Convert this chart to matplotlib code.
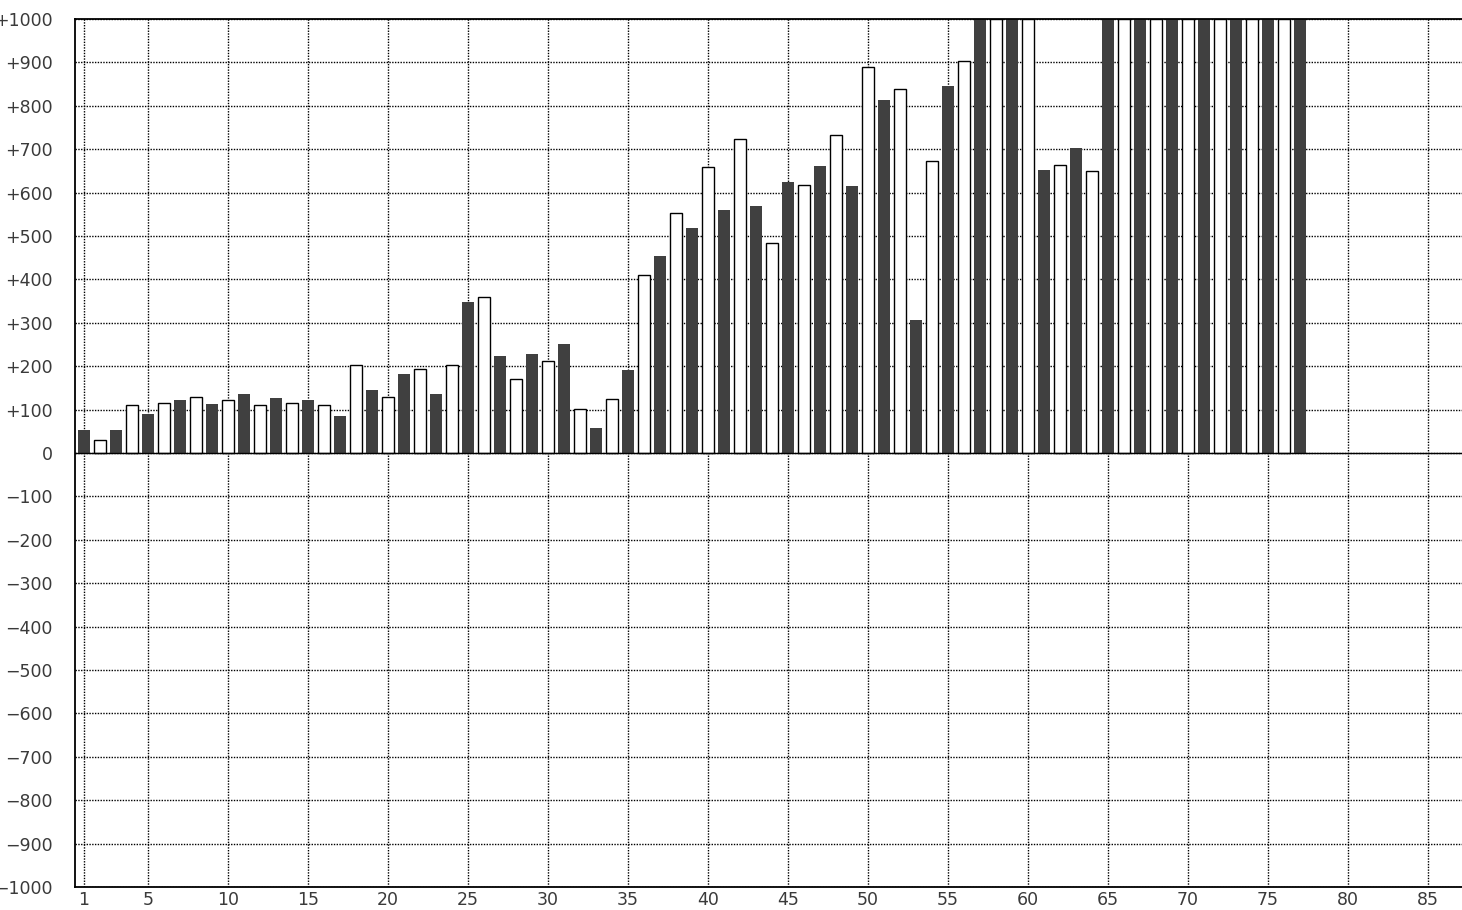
import numpy as np
import matplotlib
matplotlib.use('Agg')
import matplotlib.pyplot as plt

# bar values, bars 1..77 (tall ones are clipped at the top)
nums = np.arange(1, 78)
vals = [52, 31, 52, 111, 89, 115, 121, 129, 112, 121,
        135, 111, 126, 115, 121, 111, 85, 202, 145, 129,
        181, 194, 135, 203, 347, 360, 223, 171, 228, 212,
        251, 101, 57, 125, 191, 410, 454, 553, 518, 659,
        560, 724, 569, 484, 624, 618, 661, 733, 615, 890,
        813, 839, 306, 673, 845, 904, 1000, 1000, 1000, 1000,
        652, 664, 703, 650, 1000, 1000, 1000, 1000, 1000, 1000,
        1000, 1000, 1000, 1000, 1000, 1000, 1000]
xticks = [1, 5, 10, 15, 20, 25, 30, 35, 40, 45, 50, 55, 60, 65, 70, 75, 80, 85]
yticks = list(range(-1000, 1001, 100))

def ylab(v):
    if v > 0:
        return '+%d' % v
    if v < 0:
        return '\u2212%d' % -v
    return '0'

vals = np.array(vals)
odd = nums % 2 == 1

fig = plt.figure(figsize=(14.62, 9.10), dpi=100)
ax = fig.add_axes([75/1462, 23/910, (1462-75)/1462, 868/910])

ax.bar(nums[odd], vals[odd], width=0.75, color='#404040', linewidth=0, zorder=2)
ax.bar(nums[~odd], vals[~odd], width=0.75, color='white', edgecolor='black',
       linewidth=1.0, zorder=2)
ax.axhline(0, color='black', lw=1.0, zorder=3)

ax.set_xlim(0.4375, 87.125)
ax.set_ylim(-1000, 1000)
ax.set_xticks(xticks)
ax.set_yticks(yticks)
ax.set_yticklabels([ylab(v) for v in yticks])
ax.set_axisbelow(True)
ax.grid(True, color='black', lw=1.0, linestyle=(0, (1, 1)))
ax.tick_params(axis='both', length=0, labelsize=12.5, labelcolor='#3a3a3a')
ax.tick_params(axis='y', pad=16)
ax.tick_params(axis='x', pad=3)
for s in ['left', 'top', 'bottom']:
    ax.spines[s].set_linewidth(1.3)
ax.spines['right'].set_visible(False)

fig.savefig('out.png', dpi=100)
